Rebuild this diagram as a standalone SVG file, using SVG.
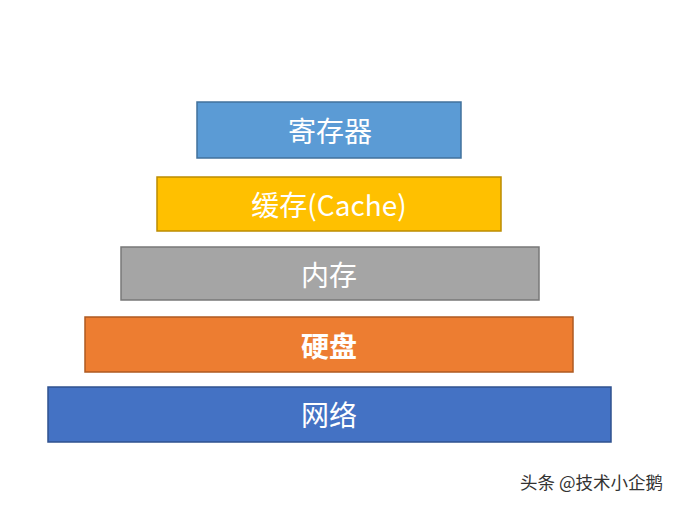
<svg xmlns="http://www.w3.org/2000/svg" width="676" height="506" viewBox="0 0 676 506">
<style>
.box{stroke-width:1.5}
.lbl{font-family:"Noto Sans CJK SC","Liberation Sans",sans-serif;font-size:28px;fill:#ffffff;text-anchor:middle;dominant-baseline:central}
.wm{font-family:"Noto Sans CJK SC","Liberation Sans",sans-serif;font-size:17.5px;fill:#333333}
</style>
<rect width="676" height="506" fill="#ffffff"/>
<g id="register">
<rect class="box" x="197" y="102" width="264" height="56" fill="#5b9bd5" stroke="#41719c"/>
<text class="lbl" x="330" y="130">寄存器</text>
</g>
<g id="cache">
<rect class="box" x="157" y="177" width="344" height="54" fill="#ffc000" stroke="#bc8c00"/>
<text class="lbl" x="329" y="204" font-size="27">缓存(Cache)</text>
</g>
<g id="memory">
<rect class="box" x="121" y="247" width="418" height="53" fill="#a5a5a5" stroke="#787878"/>
<text class="lbl" x="329" y="274">内存</text>
</g>
<g id="disk">
<rect class="box" x="85" y="317" width="488" height="55" fill="#ed7d31" stroke="#ae5a21"/>
<text class="lbl" x="329" y="345" font-weight="bold">硬盘</text>
</g>
<g id="network">
<rect class="box" x="48" y="387" width="563" height="55" fill="#4472c4" stroke="#2f528f"/>
<text class="lbl" x="329" y="414">网络</text>
</g>
<g id="connectors"></g>
<text class="wm" x="520" y="489">头条 @技术小企鹅</text>
</svg>
